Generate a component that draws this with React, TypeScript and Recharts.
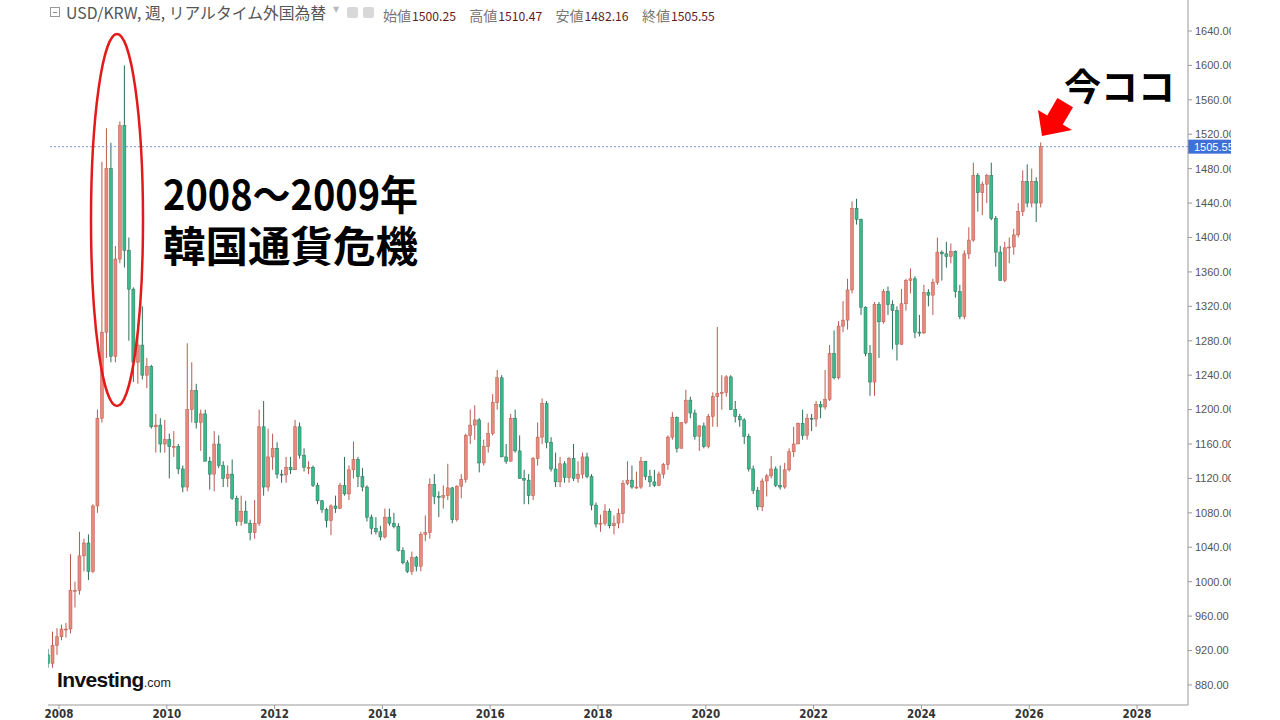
import React from "react";
import {
  ComposedChart,
  Bar,
  XAxis,
  YAxis,
  ReferenceLine,
} from "recharts";

// monthly USD/KRW candles: [open, high, low, close]
const y2007 = [[915, 922, 900, 905], [905, 942, 900, 926], [926, 946, 915, 936]];
const y2008 = [
  [936, 950, 932, 945], [945, 952, 935, 945], [945, 1032, 940, 990], [990, 1000, 970, 990],
  [990, 1058, 985, 1030], [1030, 1050, 1012, 1045], [1045, 1055, 1002, 1012], [1012, 1090, 1010, 1088],
  [1088, 1200, 1080, 1190], [1190, 1488, 1185, 1290], [1290, 1527, 1260, 1480], [1480, 1510, 1255, 1262],
];
const y2009 = [
  [1262, 1390, 1255, 1375], [1375, 1535, 1370, 1530], [1530, 1600, 1365, 1385], [1385, 1400, 1280, 1340],
  [1340, 1342, 1232, 1255], [1255, 1300, 1230, 1275], [1275, 1320, 1235, 1240], [1240, 1260, 1225, 1250],
  [1250, 1252, 1178, 1180], [1180, 1195, 1150, 1182], [1182, 1190, 1150, 1160], [1160, 1188, 1150, 1165],
];
const y2010 = [
  [1165, 1172, 1120, 1157], [1157, 1175, 1145, 1157], [1157, 1160, 1125, 1131], [1131, 1135, 1104, 1110],
  [1110, 1277, 1105, 1200], [1200, 1255, 1185, 1222], [1222, 1230, 1178, 1185], [1185, 1200, 1152, 1195],
  [1195, 1200, 1140, 1140], [1140, 1145, 1107, 1125], [1125, 1175, 1105, 1160], [1160, 1170, 1132, 1135],
];
const y2011 = [
  [1135, 1140, 1110, 1120], [1120, 1135, 1110, 1125], [1125, 1142, 1095, 1097], [1097, 1100, 1065, 1070],
  [1070, 1100, 1065, 1082], [1082, 1094, 1068, 1068], [1068, 1072, 1048, 1057], [1057, 1095, 1050, 1068],
  [1068, 1200, 1065, 1180], [1180, 1210, 1100, 1110], [1110, 1178, 1105, 1145], [1145, 1172, 1130, 1155],
];
const y2012 = [
  [1155, 1162, 1120, 1125], [1125, 1130, 1115, 1124], [1124, 1145, 1115, 1133], [1133, 1145, 1125, 1130],
  [1130, 1188, 1130, 1180], [1180, 1185, 1143, 1147], [1147, 1155, 1128, 1133], [1133, 1140, 1125, 1133],
  [1133, 1135, 1110, 1112], [1112, 1115, 1090, 1094], [1094, 1095, 1080, 1084], [1084, 1086, 1063, 1071],
];
const y2013 = [
  [1071, 1090, 1054, 1088], [1088, 1100, 1080, 1085], [1085, 1115, 1085, 1112], [1112, 1145, 1100, 1102],
  [1102, 1135, 1095, 1130], [1130, 1163, 1120, 1142], [1142, 1145, 1110, 1122], [1122, 1132, 1105, 1110],
  [1110, 1112, 1070, 1075], [1075, 1078, 1055, 1062], [1062, 1075, 1055, 1058], [1058, 1065, 1048, 1052],
];
const y2014 = [
  [1052, 1085, 1050, 1075], [1075, 1085, 1065, 1068], [1068, 1080, 1062, 1064], [1064, 1068, 1035, 1036],
  [1036, 1040, 1020, 1022], [1022, 1025, 1010, 1012], [1012, 1035, 1008, 1028], [1028, 1030, 1012, 1018],
  [1018, 1058, 1012, 1055], [1055, 1077, 1047, 1057], [1057, 1120, 1050, 1113], [1113, 1125, 1090, 1099],
];
const y2015 = [
  [1099, 1105, 1075, 1098], [1098, 1112, 1085, 1100], [1100, 1137, 1095, 1109], [1109, 1110, 1068, 1072],
  [1072, 1112, 1070, 1111], [1111, 1125, 1097, 1119], [1119, 1172, 1115, 1170], [1170, 1200, 1160, 1182],
  [1182, 1205, 1165, 1188], [1188, 1190, 1127, 1138], [1138, 1165, 1135, 1157], [1157, 1185, 1150, 1172],
];
const y2016 = [
  [1172, 1218, 1170, 1208], [1208, 1246, 1200, 1237], [1237, 1240, 1145, 1145], [1145, 1160, 1137, 1140],
  [1140, 1195, 1140, 1190], [1190, 1200, 1150, 1152], [1152, 1170, 1120, 1120], [1120, 1130, 1090, 1118],
  [1118, 1125, 1090, 1100], [1100, 1145, 1095, 1143], [1143, 1185, 1135, 1168], [1168, 1213, 1160, 1207],
];
const y2017 = [
  [1207, 1210, 1155, 1162], [1162, 1168, 1128, 1131], [1131, 1150, 1110, 1116], [1116, 1145, 1110, 1137],
  [1137, 1140, 1115, 1121], [1121, 1145, 1115, 1143], [1143, 1160, 1117, 1120], [1120, 1140, 1115, 1125],
  [1125, 1150, 1120, 1145], [1145, 1150, 1120, 1122], [1122, 1125, 1083, 1089], [1089, 1092, 1063, 1067],
];
const y2018 = [
  [1067, 1078, 1058, 1068], [1068, 1090, 1065, 1082], [1082, 1085, 1062, 1065], [1065, 1077, 1055, 1068],
  [1068, 1085, 1062, 1079], [1079, 1118, 1068, 1114], [1114, 1140, 1112, 1118], [1118, 1135, 1108, 1110],
  [1110, 1128, 1108, 1110], [1110, 1145, 1108, 1140], [1140, 1140, 1118, 1122], [1122, 1130, 1110, 1116],
];
const y2019 = [
  [1116, 1130, 1110, 1112], [1112, 1128, 1111, 1125], [1125, 1138, 1120, 1136], [1136, 1170, 1130, 1168],
  [1168, 1197, 1165, 1191], [1191, 1192, 1150, 1155], [1155, 1185, 1155, 1185], [1185, 1223, 1183, 1211],
  [1211, 1215, 1190, 1196], [1196, 1200, 1165, 1169], [1169, 1182, 1152, 1181], [1181, 1185, 1155, 1157],
];
const y2020 = [
  [1157, 1195, 1155, 1192], [1192, 1220, 1180, 1215], [1215, 1296, 1180, 1219], [1219, 1240, 1200, 1220],
  [1220, 1240, 1215, 1238], [1238, 1240, 1200, 1200], [1200, 1210, 1185, 1192], [1192, 1195, 1180, 1188],
  [1188, 1190, 1160, 1169], [1169, 1172, 1128, 1131], [1131, 1135, 1102, 1106], [1106, 1110, 1083, 1087],
];
const y2021 = [
  [1087, 1120, 1082, 1117], [1117, 1125, 1099, 1123], [1123, 1146, 1120, 1131], [1131, 1134, 1110, 1112],
  [1112, 1135, 1107, 1110], [1110, 1138, 1108, 1130], [1130, 1155, 1128, 1151], [1151, 1180, 1145, 1160],
  [1160, 1185, 1160, 1184], [1184, 1200, 1165, 1170], [1170, 1195, 1165, 1190], [1190, 1195, 1175, 1189],
];
const y2022 = [
  [1189, 1210, 1180, 1206], [1206, 1210, 1190, 1203], [1203, 1246, 1200, 1212], [1212, 1275, 1210, 1265],
  [1265, 1292, 1235, 1237], [1237, 1303, 1235, 1297], [1297, 1326, 1290, 1304], [1304, 1352, 1293, 1339],
  [1339, 1442, 1335, 1434], [1434, 1445, 1415, 1421], [1421, 1422, 1310, 1319], [1319, 1320, 1262, 1265],
];
const y2023 = [
  [1265, 1275, 1216, 1232], [1232, 1325, 1216, 1322], [1322, 1325, 1260, 1302], [1302, 1340, 1300, 1337],
  [1337, 1343, 1310, 1322], [1322, 1327, 1270, 1315], [1315, 1320, 1257, 1276], [1276, 1340, 1275, 1323],
  [1323, 1352, 1315, 1350], [1350, 1364, 1335, 1352], [1352, 1355, 1283, 1290], [1290, 1310, 1285, 1289],
];
const y2024 = [
  [1289, 1345, 1288, 1336], [1336, 1340, 1320, 1333], [1333, 1352, 1310, 1348], [1348, 1400, 1345, 1383],
  [1383, 1385, 1350, 1381], [1381, 1395, 1365, 1378], [1378, 1393, 1370, 1384], [1384, 1385, 1330, 1337],
  [1337, 1345, 1305, 1308], [1308, 1385, 1305, 1381], [1381, 1412, 1375, 1397], [1397, 1487, 1395, 1472],
];
const y2025 = [
  [1472, 1475, 1430, 1452], [1452, 1465, 1426, 1462], [1462, 1474, 1440, 1472], [1472, 1487, 1420, 1422],
  [1422, 1425, 1366, 1383], [1383, 1390, 1350, 1350], [1350, 1395, 1348, 1388], [1388, 1400, 1370, 1389],
  [1389, 1410, 1380, 1403], [1403, 1440, 1400, 1430], [1430, 1478, 1425, 1465], [1465, 1485, 1435, 1440],
];
const y2026 = [[1440, 1480, 1435, 1465], [1465, 1470, 1418, 1440], [1440, 1510.47, 1435, 1505.55]];

// year, candles, first month of the array
const years: [number, number[][], number][] = [
  [2007, y2007, 10], [2008, y2008, 1], [2009, y2009, 1], [2010, y2010, 1], [2011, y2011, 1],
  [2012, y2012, 1], [2013, y2013, 1], [2014, y2014, 1], [2015, y2015, 1], [2016, y2016, 1],
  [2017, y2017, 1], [2018, y2018, 1], [2019, y2019, 1], [2020, y2020, 1], [2021, y2021, 1],
  [2022, y2022, 1], [2023, y2023, 1], [2024, y2024, 1], [2025, y2025, 1], [2026, y2026, 1],
];

const xTicks = [2008, 2010, 2012, 2014, 2016, 2018, 2020, 2022, 2024, 2026, 2028];
const yTicks = [880, 920, 960, 1000, 1040, 1080, 1120, 1160, 1200, 1240, 1280, 1320, 1360, 1400, 1440, 1480, 1520, 1560, 1600, 1640];
const lastPrice = 1505.55;
const quote = [
  ["始値", "1500.25"],
  ["高値", "1510.47"],
  ["安値", "1482.16"],
  ["終値", "1505.55"],
];

const data = years.flatMap(([yr, rows, first]) =>
  rows.map((r, i) => ({
    t: yr + (first - 1 + i + 0.5) / 12,
    open: r[0],
    high: r[1],
    low: r[2],
    close: r[3],
  }))
);

const UP = { fill: "#e58a7d", line: "#b9594d" };
const DOWN = { fill: "#38ba8b", line: "#2b6f57" };

function Candle(props: any) {
  const { x, y, width, height, payload } = props;
  if (x == null || y == null) return null;
  const { open, close, high, low } = payload;
  const top = Math.min(y, y + height);
  const h = Math.abs(height);
  const k = high === low ? 0 : h / (high - low);
  const up = close >= open;
  const c = up ? UP : DOWN;
  const bTop = top + (high - Math.max(open, close)) * k;
  const bH = Math.max(1, Math.abs(close - open) * k);
  const cx = x + width / 2;
  return (
    <g>
      <line x1={cx} x2={cx} y1={top} y2={top + h} stroke={c.line} strokeWidth={1} />
      <rect x={x} y={bTop} width={width} height={bH} fill={c.fill} stroke={c.line} strokeWidth={0.5} />
    </g>
  );
}

function PriceTag(props: any) {
  const vb = props.viewBox;
  if (!vb) return null;
  const x = vb.x + vb.width;
  return (
    <g>
      <rect x={x} y={vb.y - 7} width={52} height={14} fill="#3f6fd8" />
      <text x={x + 6} y={vb.y + 4} fill="#fff" fontSize={11} fontFamily="Arial, 'Liberation Sans', sans-serif">
        {lastPrice.toFixed(2)}
      </text>
    </g>
  );
}

export default function App() {
  return (
    <div style={{ position: "absolute", left: 0, top: 0, width: 1280, height: 720, background: "#fff", overflow: "hidden" }}>
      <div style={{ position: "absolute", left: 0, top: 0, width: 1231, height: 720, overflow: "hidden" }}>
        <ComposedChart width={1280} height={720} data={data} margin={{ top: 0, right: 0, bottom: 0, left: 48 }}>
          <XAxis
            dataKey="t"
            type="number"
            domain={[2007.796, 2028.946]}
            ticks={xTicks}
            allowDataOverflow
            height={15}
            stroke="#999"
            tickSize={4}
            tickMargin={1}
            tick={{ fill: "#333", fontSize: 11.5, fontWeight: 700, fontFamily: "'Liberation Sans Narrow', 'Arial Narrow', 'DejaVu Sans Condensed', sans-serif" }}
          />
          <YAxis
            orientation="right"
            type="number"
            domain={[856.7, 1676]}
            ticks={yTicks}
            allowDataOverflow
            width={92}
            stroke="#999"
            tickSize={4}
            tickMargin={3}
            tickFormatter={(v: number) => v.toFixed(2)}
            tick={{ fill: "#555", fontSize: 11, fontFamily: "Arial, 'Liberation Sans', sans-serif", textAnchor: "start" }}
          />
          <ReferenceLine y={lastPrice} stroke="#7f9bd6" strokeDasharray="2 2" label={<PriceTag />} />
          <Bar
            dataKey={(d: any) => [d.low, d.high]}
            barSize={3}
            shape={<Candle />}
            isAnimationActive={false}
          />
        </ComposedChart>
      </div>

      {/* header */}
      <div style={{ position: "absolute", left: 50, top: 7, width: 10, height: 10, border: "1px solid #999", boxSizing: "border-box" }}>
        <div style={{ position: "absolute", left: 2, top: 3.5, width: 4, height: 1, background: "#888" }} />
      </div>
      <div style={{ position: "absolute", left: 66, top: 1, fontSize: 15.8, color: "#555", fontFamily: "'Noto Sans CJK JP', 'Noto Sans', sans-serif", whiteSpace: "nowrap" }}>
        USD/KRW, 週, リアルタイム外国為替
      </div>
      <div style={{ position: "absolute", left: 333, top: 5, fontSize: 8, color: "#bbb", fontFamily: "'DejaVu Sans', sans-serif" }}>▼</div>
      <div style={{ position: "absolute", left: 347, top: 7, width: 11, height: 11, background: "#d8d8d8", borderRadius: 2 }} />
      <div style={{ position: "absolute", left: 363, top: 7, width: 11, height: 11, background: "#d8d8d8", borderRadius: 2 }} />
      {quote.map(([label, value], i) => (
        <div key={label} style={{ position: "absolute", left: 383 + i * 86.3, top: 2, whiteSpace: "nowrap", fontFamily: "'Noto Sans CJK JP', 'Noto Sans', sans-serif" }}>
          <span style={{ color: "#777", fontSize: 14 }}>{label}</span>
          <span style={{ color: "#5e1d1d", fontSize: 12.2, marginLeft: 1 }}>{value}</span>
        </div>
      ))}

      {/* logo */}
      <div style={{ position: "absolute", left: 57, top: 668, whiteSpace: "nowrap", fontFamily: "Arial, 'Liberation Sans', sans-serif", color: "#111" }}>
        <span style={{ fontSize: 21, fontWeight: 700, letterSpacing: -0.6 }}>Investing</span>
        <span style={{ fontSize: 12.5, color: "#222" }}>.com</span>
      </div>

      {/* annotations */}
      <svg width={1280} height={720} style={{ position: "absolute", left: 0, top: 0, pointerEvents: "none" }}>
        <ellipse cx={117} cy={220} rx={26} ry={186} fill="none" stroke="#e31a1a" strokeWidth={2.5} />
        <text x={163} y={210} fontSize={41} fontWeight={700} fill="#000" textLength={255} lengthAdjust="spacingAndGlyphs" fontFamily="'Noto Sans CJK JP', sans-serif">
          2008～2009年
        </text>
        <text x={163} y={262} fontSize={42} fontWeight={700} fill="#000" textLength={255} lengthAdjust="spacingAndGlyphs" fontFamily="'Noto Sans CJK JP', sans-serif">
          韓国通貨危機
        </text>
        <text x={1064} y={101} fontSize={37} fontWeight={700} fill="#000" fontFamily="'Noto Sans CJK JP', sans-serif">
          今ココ
        </text>
        <polygon
          points="1042,136 1038,110 1047.2,115.4 1057.4,98.1 1073,107.3 1062.8,124.6 1072,130"
          fill="#ff0000"
        />
      </svg>
    </div>
  );
}
